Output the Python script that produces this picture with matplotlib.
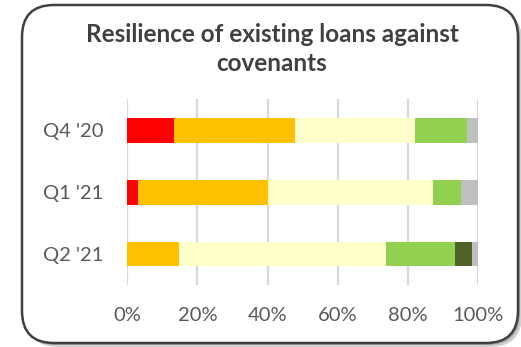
import matplotlib
matplotlib.use('Agg')
from matplotlib import pyplot as plt
from matplotlib.patches import FancyBboxPatch
import numpy as np

plt.rcParams['font.family'] = ['Lato', 'DejaVu Sans']

# 各季度贷款对契约条款的承受情况(百分比)
quarters = ["Q4 '20", "Q1 '21", "Q2 '21"]
breached = [13.3, 3.0, 0.0]
at_risk = [34.5, 37.2, 14.7]
limited_headroom = [34.3, 47.1, 59.0]
comfortable = [14.9, 8.0, 19.7]
strong = [0.0, 0.0, 5.0]
unknown = [3.0, 4.7, 1.6]

series = [breached, at_risk, limited_headroom, comfortable, strong, unknown]
colors = ['#FF0000', '#FFC000', '#FFFFCC', '#92D050', '#4F6228', '#BFBFBF']

fig = plt.figure(figsize=(5.21, 3.47), dpi=100)

# 圆角外框 + 阴影
for off, c in [(4, '#d0d0d0'), (2, '#a8a8a8')]:
    fig.add_artist(FancyBboxPatch((22 + off, 4 - off), 496, 338,
                                  boxstyle='round,pad=0,rounding_size=32',
                                  transform=None, facecolor=c, edgecolor='none',
                                  zorder=0))
fig.add_artist(FancyBboxPatch((22, 4), 496, 338,
                              boxstyle='round,pad=0,rounding_size=32',
                              transform=None, facecolor='white',
                              edgecolor='#404040', linewidth=1.8, zorder=1))

ax = fig.add_axes([0.2443, 0.1787, 0.6731, 0.5352])
ax.set_zorder(2)
ax.patch.set_alpha(0)

y = np.arange(len(quarters))
left = np.zeros(len(quarters))
for vals, c in zip(series, colors):
    ax.barh(y, vals, left=left, height=0.4, color=c, zorder=3)
    left += np.array(vals)

ax.set_xlim(0, 100)
ax.set_ylim(-0.5, 2.5)
ax.invert_yaxis()
ax.set_yticks(y)
ax.set_yticklabels(quarters)
ax.set_xticks(np.arange(0, 101, 20))
ax.set_xticklabels(['%d%%' % v for v in range(0, 101, 20)])
ax.tick_params(axis='both', length=0, labelsize=14.5, labelcolor='#595959')
ax.tick_params(axis='y', pad=17)
ax.tick_params(axis='x', pad=16)
ax.grid(axis='x', color='#d9d9d9', linewidth=1.6, zorder=0)
for s in ax.spines.values():
    s.set_visible(False)

fig.text(0.522, 0.859, 'Resilience of existing loans against\ncovenants',
         ha='center', va='center', fontsize=17.5, fontweight='bold',
         color='#404040', linespacing=1.3, zorder=3)

fig.savefig('out.png', dpi=100)
